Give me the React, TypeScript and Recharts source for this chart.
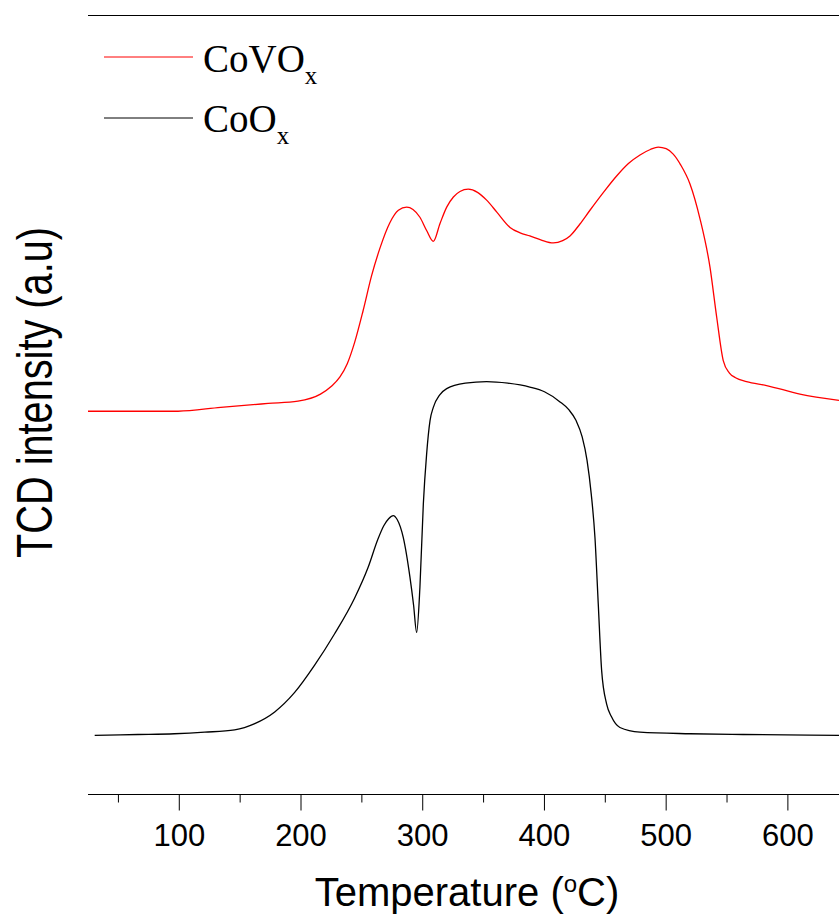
import React from 'react';
import { LineChart, Line, XAxis, YAxis, ReferenceLine, Customized } from 'recharts';

// CoVOx profile (temperature °C, TCD intensity a.u.)
const tempCoVOx = [25, 99, 134, 173, 197.5, 216, 225, 232, 238, 244, 251, 258, 265, 273, 280, 286.8, 292, 297.7, 303.2, 308.7, 314.2, 319.7, 325.2, 330.6, 337.4, 345, 352.5, 360.7, 371.7, 380, 388, 397, 407.3, 415, 421, 429, 437.4, 448, 459.3, 469, 478.5, 487, 493.5, 500, 505.8, 512, 519.5, 527.8, 536, 541.5, 546.9, 552, 557, 566, 582.5, 609.9, 642];
const intCoVOx = [49.2, 49.2, 49.7, 50.2, 50.5, 51.4, 52.4, 53.6, 55.3, 58.0, 62.1, 66.6, 70.2, 73.4, 75.0, 75.4, 75.1, 74.1, 72.4, 71.0, 73.3, 75.4, 76.7, 77.4, 77.7, 77.3, 76.3, 74.8, 72.8, 72.1, 71.7, 71.2, 70.8, 71.1, 71.7, 73.2, 75.0, 77.2, 79.4, 81.0, 82.1, 82.8, 83.1, 82.9, 82.2, 80.8, 78.4, 73.9, 67.7, 61.3, 55.7, 54.1, 53.5, 53.0, 52.5, 51.4, 50.6];

// CoOx profile
const tempCoOx = [30.5, 66, 96, 120.9, 145.5, 162, 178.4, 194.8, 211.2, 227.5, 244, 255, 263, 268, 272, 275.8, 279, 284, 289.5, 292.5, 295, 297.7, 300.5, 303.2, 306, 308.7, 314, 319.7, 335, 352.5, 370, 388, 400, 412.8, 420, 426, 431, 435, 438.5, 441.5, 444.2, 447, 451.1, 455, 462, 478.5, 519.5, 563.3, 642];
const intCoOx = [7.6, 7.7, 7.8, 8.0, 8.3, 9.1, 10.6, 13.1, 16.6, 20.6, 25.2, 29.1, 32.7, 34.5, 35.4, 35.8, 35.3, 33.0, 27.9, 24.3, 20.8, 26.6, 37.3, 43.7, 48.0, 49.7, 51.3, 52.1, 52.8, 53.0, 52.8, 52.3, 51.7, 50.4, 49.4, 48.0, 45.9, 42.9, 38.5, 33.0, 24.5, 15.9, 11.6, 10.0, 8.6, 8.0, 7.8, 7.7, 7.6];

const xTicks = [50, 100, 150, 200, 250, 300, 350, 400, 450, 500, 550, 600];
const majorTickLabels = [100, 200, 300, 400, 500, 600];
const seriesNames = ['CoVO', 'CoO'];
const seriesSubs = ['x', 'x'];
const seriesColors = ['#ff0000', '#000000'];

const covoData = tempCoVOx.map((t, i) => ({ t, v: intCoVOx[i] }));
const cooData = tempCoOx.map((t, i) => ({ t, v: intCoOx[i] }));

const SANS = '"Liberation Sans", Arial, Helvetica, sans-serif';
const SERIF = '"Liberation Serif", "Times New Roman", serif';

const XTick = (props: any) => {
  const { x, y, payload } = props;
  const v = payload.value;
  const major = majorTickLabels.includes(v);
  return (
    <g>
      <line x1={x} x2={x} y1={y} y2={y + (major ? 16 : 8)} stroke="#000" strokeWidth={1} />
      {major && (
        <text x={x} y={y + 51.5} textAnchor="middle" fontFamily={SANS} fontSize={31} fill="#000">
          {v}
        </text>
      )}
    </g>
  );
};

const Decorations = () => (
  <g>
    {seriesNames.map((name, i) => (
      <g key={name}>
        <line x1={104} x2={193} y1={57 + i * 61} y2={57 + i * 61} stroke={seriesColors[i]} strokeWidth={1} />
        <text x={203} y={72 + i * 59.5} fontFamily={SERIF} fontSize={39} fill="#000">
          {name}
          <tspan fontSize={25} dy={12}>{seriesSubs[i]}</tspan>
        </text>
      </g>
    ))}
    <text x={467} y={906} textAnchor="middle" fontFamily={SANS} fontSize={40} fill="#000">
      Temperature (
      <tspan fontSize={24} dy={-14}>o</tspan>
      <tspan dy={14}>C)</tspan>
    </text>
    <text
      x={0}
      y={0}
      transform="translate(52, 392.5) rotate(-90)"
      textAnchor="middle"
      fontFamily={SANS}
      fontSize={50}
      textLength={331}
      lengthAdjust="spacingAndGlyphs"
      fill="#000"
    >
      TCD intensity (a.u)
    </text>
  </g>
);

export default function App() {
  return (
    <div style={{ position: 'fixed', left: 0, top: 0, width: 839, height: 918, overflow: 'hidden', background: '#fff' }}>
      <LineChart width={839} height={918} margin={{ top: 15.5, right: 0, bottom: 0, left: 88 }}>
        <XAxis
          xAxisId="main"
          type="number"
          dataKey="t"
          domain={[25, 642]}
          allowDataOverflow
          ticks={xTicks}
          interval={0}
          tickSize={0}
          tickMargin={0}
          tickLine={false}
          tick={<XTick />}
          height={123.5}
          axisLine={{ stroke: '#000', strokeWidth: 1 }}
        />
        <YAxis
          yAxisId="main"
          type="number"
          domain={[0, 100]}
          allowDataOverflow
          width={0}
          tick={false}
          tickLine={false}
          axisLine={{ stroke: '#000', strokeWidth: 1 }}
        />
        <ReferenceLine xAxisId="main" yAxisId="main" y={100} stroke="#000" strokeWidth={1} ifOverflow="visible" />
        <Line
          xAxisId="main"
          yAxisId="main"
          data={covoData}
          dataKey="v"
          type="monotone"
          stroke={seriesColors[0]}
          strokeWidth={1.3}
          dot={false}
          isAnimationActive={false}
        />
        <Line
          xAxisId="main"
          yAxisId="main"
          data={cooData}
          dataKey="v"
          type="monotone"
          stroke={seriesColors[1]}
          strokeWidth={1.3}
          dot={false}
          isAnimationActive={false}
        />
        <Customized component={Decorations} />
      </LineChart>
    </div>
  );
}
